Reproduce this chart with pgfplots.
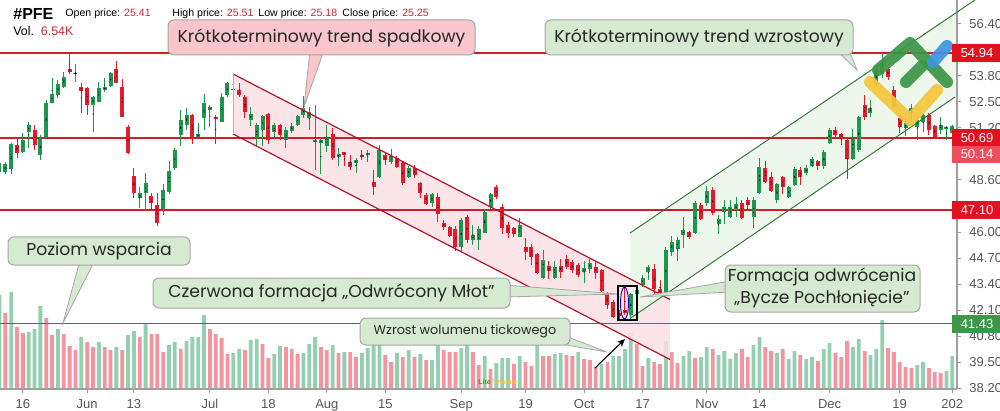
\documentclass[border=0pt]{standalone}
\usepackage{fontspec}
\setmainfont{Liberation Sans}
\newfontfamily\pop{Poppins}
\usepackage{pgfplots}
\pgfplotsset{compat=1.18}
\usepackage{pgfplotstable}
\usetikzlibrary{arrows.meta}
\definecolor{cgreen}{RGB}{30,150,78}
\definecolor{cred}{RGB}{226,28,44}
\definecolor{vgreen}{RGB}{148,208,176}
\definecolor{vred}{RGB}{243,148,158}
\definecolor{lred}{RGB}{205,30,35}
\definecolor{chred}{RGB}{180,20,40}
\definecolor{chgr}{RGB}{40,115,45}
\definecolor{boxpink}{RGB}{248,198,203}
\definecolor{boxgreen}{RGB}{214,234,210}
\definecolor{chpink}{RGB}{252,224,228}
\definecolor{chgreen}{RGB}{236,246,233}
\definecolor{labred}{RGB}{224,18,32}
\definecolor{labred2}{RGB}{236,80,92}
\definecolor{labgreen}{RGB}{62,150,72}
\definecolor{tickgray}{RGB}{85,85,85}
\definecolor{lgreen}{RGB}{60,150,70}
\definecolor{lyellow}{RGB}{245,198,60}
\definecolor{lblue}{RGB}{60,150,225}
\definecolor{hred}{RGB}{200,40,50}

\pgfplotstableread{
i o h l c
0 49.00 49.60 48.90 49.45
1 49.00 49.50 48.90 49.40
2 49.15 50.45 48.90 50.40
3 50.35 50.70 49.70 49.95
4 50.00 50.95 49.95 50.60
5 51.00 51.50 50.20 51.35
6 51.10 51.35 50.10 50.35
7 49.85 50.85 49.60 50.70
8 50.75 52.60 50.70 52.45
9 52.45 53.70 52.45 52.90
10 52.85 53.60 52.70 53.40
11 53.25 54.00 53.20 53.75
12 54.15 54.90 53.90 54.00
13 53.90 54.40 53.50 53.95
14 53.25 53.45 51.95 53.05
15 53.20 53.25 51.85 52.35
16 52.35 52.80 51.00 52.75
17 52.50 53.50 52.50 53.20
18 53.10 53.70 53.00 53.25
19 53.30 54.00 53.25 53.95
20 54.15 54.55 53.45 53.45
21 53.25 53.65 51.75 51.75
22 51.25 51.35 49.90 49.95
23 48.80 49.20 47.70 47.95
24 47.70 48.25 47.20 47.95
25 47.95 48.95 47.10 48.45
26 47.80 47.95 47.10 47.45
27 47.35 47.95 46.30 46.45
28 47.15 48.40 46.85 48.10
29 48.00 49.55 47.90 49.05
30 49.20 50.20 49.10 50.10
31 50.85 52.10 50.30 51.60
32 51.35 52.20 51.10 51.85
33 51.85 51.90 50.40 50.75
34 50.75 51.45 50.75 50.90
35 51.70 52.90 51.10 52.45
36 52.10 52.35 51.25 52.25
37 51.75 51.85 50.40 51.65
38 51.50 52.95 51.50 52.75
39 52.85 53.50 52.75 53.45
40 53.10 53.90 52.85 53.15
41 53.10 53.45 52.75 52.85
42 52.75 52.85 51.70 52.00
43 51.60 52.25 51.30 51.90
44 50.70 51.45 50.30 51.35
45 51.10 51.85 50.30 51.80
46 51.90 51.95 50.40 50.60
47 51.00 51.45 50.70 51.35
48 51.35 51.40 50.60 50.85
49 50.60 51.25 50.20 51.10
50 51.05 51.45 50.95 51.30
51 51.35 51.85 51.30 51.80
52 51.85 52.80 51.70 52.20
53 51.70 52.25 51.10 52.00
54 50.50 52.35 49.10 50.60
55 50.45 50.65 48.90 50.60
56 50.30 51.35 50.00 50.70
57 50.90 51.20 49.60 49.70
58 49.75 50.20 49.30 49.90
59 50.00 50.00 49.30 49.85
60 49.50 49.85 49.10 49.25
61 49.45 49.70 48.95 49.60
62 49.85 50.10 49.60 49.75
63 49.85 50.10 49.50 49.95
64 48.50 49.10 47.85 48.25
65 48.75 50.35 48.70 50.10
66 49.85 49.95 49.35 49.60
67 49.50 50.15 49.40 49.80
68 49.70 49.80 49.20 49.25
69 49.45 49.50 48.35 48.45
70 48.75 49.30 48.70 49.20
71 49.20 49.35 48.70 48.85
72 48.45 48.50 47.70 47.95
73 47.85 47.95 47.35 47.40
74 47.45 47.95 47.25 47.90
75 47.75 47.95 46.50 46.90
76 46.45 46.60 46.10 46.25
77 46.25 46.30 45.75 45.80
78 46.15 46.30 45.05 45.25
79 45.25 46.70 45.05 46.60
80 46.75 46.85 45.45 45.60
81 45.60 46.35 45.35 45.85
82 45.60 46.30 45.10 46.15
83 45.95 47.15 45.95 47.00
84 47.25 47.95 47.15 47.90
85 48.25 48.35 47.65 47.75
86 47.25 47.40 45.90 46.20
87 46.35 46.50 45.70 45.95
88 46.20 46.25 45.75 45.90
89 45.75 46.70 45.75 46.35
90 45.25 45.70 44.60 45.00
91 45.25 45.40 44.35 44.75
92 44.90 44.95 43.90 43.95
93 43.70 45.10 43.65 44.60
94 44.30 44.55 43.65 44.05
95 43.70 44.55 43.65 44.25
96 44.30 44.65 43.70 44.00
97 44.65 44.85 44.15 44.25
98 44.50 44.60 43.95 44.10
99 44.35 44.45 43.75 43.85
100 44.00 44.55 43.45 44.20
101 44.15 44.65 43.95 44.45
102 44.25 44.55 43.65 43.95
103 44.10 44.15 43.00 43.05
104 42.95 43.00 42.15 42.35
105 42.50 42.60 41.70 41.75
106 41.95 42.10 41.65 41.80
107 42.10 43.20 41.85 41.95
108 41.85 42.95 41.70 42.90
109 42.90 43.30 42.70 43.10
110 43.35 43.85 43.25 43.70
111 44.00 44.35 43.60 44.25
112 44.15 44.40 42.80 43.15
113 43.15 43.60 42.85 42.95
114 42.95 45.25 42.90 45.10
115 45.00 45.80 44.80 45.50
116 45.15 45.75 44.55 45.60
117 45.85 46.75 45.20 46.10
118 46.00 46.05 45.65 45.75
119 45.95 47.55 45.90 47.45
120 47.35 47.45 46.60 46.65
121 47.45 48.30 47.30 48.05
122 48.10 48.25 46.85 46.95
123 46.40 46.85 45.90 46.65
124 47.00 47.60 46.40 47.25
125 46.75 47.60 46.70 47.25
126 47.10 47.75 46.75 47.40
127 47.45 47.60 46.65 46.70
128 47.60 47.75 47.10 47.35
129 46.75 47.75 46.20 47.60
130 47.95 49.70 47.90 49.25
131 49.20 49.55 48.45 48.50
132 48.75 49.00 48.00 48.05
133 47.60 48.45 47.45 48.40
134 48.75 48.80 47.90 48.25
135 47.75 48.30 47.70 48.25
136 48.35 49.25 48.30 49.15
137 49.10 49.25 48.35 48.75
138 48.95 49.35 48.85 49.20
139 49.30 49.75 49.25 49.65
140 49.55 49.60 49.10 49.30
141 49.30 50.10 49.15 50.00
142 50.45 51.20 50.40 51.10
143 51.10 51.25 50.75 50.85
144 50.90 50.95 50.35 50.70
145 50.60 50.70 48.65 49.65
146 49.65 51.15 49.60 50.65
147 50.10 51.80 50.00 51.75
148 52.35 52.85 51.60 51.75
149 51.95 52.60 51.75 52.20
150 53.40 54.35 53.30 54.10
151 53.90 54.95 53.70 54.45
152 54.15 54.25 53.60 53.75
153 53.10 53.30 52.20 52.25
154 51.70 51.85 50.95 51.25
155 51.20 51.70 50.80 51.45
156 51.95 52.40 51.60 52.20
157 51.25 51.80 50.60 51.60
158 51.50 51.95 51.00 51.85
159 51.85 51.95 50.85 51.10
160 51.30 51.35 50.70 50.75
161 51.10 51.75 50.90 51.35
162 51.20 51.30 50.60 51.25
163 50.95 51.35 50.90 51.30
}\cdata

\pgfplotstableread{
i v g
0 94 1
1 76 0
2 97 1
3 62 0
4 56 0
5 57 1
6 60 1
7 83 1
8 71 0
9 54 0
10 60 1
11 55 0
12 43 0
13 39 0
14 52 1
15 47 0
16 42 0
17 47 1
18 42 0
19 39 0
20 42 1
21 39 0
22 54 1
23 58 1
24 52 0
25 66 1
26 55 0
27 55 0
28 37 0
29 44 1
30 47 1
31 40 0
32 48 1
33 52 1
34 52 1
35 74 1
36 60 0
37 55 0
38 51 0
39 35 0
40 36 1
41 40 1
42 39 0
43 49 1
44 50 1
45 45 0
46 31 0
47 35 1
48 43 1
49 42 0
50 40 0
51 35 0
52 36 1
53 45 1
54 52 1
55 42 0
56 39 0
57 44 1
58 36 0
59 37 1
60 37 0
61 32 0
62 36 1
63 41 1
64 44 1
65 50 1
66 34 0
67 27 0
68 36 1
69 32 0
70 39 1
71 32 0
72 35 1
73 29 0
74 29 1
75 46 1
76 39 0
77 37 0
78 37 0
79 41 1
80 45 1
81 37 0
82 24 0
83 33 1
84 20 0
85 26 1
86 31 1
87 31 1
88 25 0
89 33 1
90 27 0
91 23 0
92 46 1
93 33 0
94 33 0
95 35 1
96 36 1
97 34 0
98 33 0
99 37 1
100 30 0
101 29 0
102 22 0
103 25 1
104 27 0
105 33 1
106 33 1
107 40 1
108 56 1
109 45 0
110 23 0
111 31 1
112 27 0
113 25 0
114 48 1
115 37 0
116 26 0
117 33 1
118 38 1
119 31 0
120 32 1
121 42 1
122 40 0
123 34 1
124 38 1
125 30 1
126 36 1
127 40 0
128 32 0
129 44 1
130 52 1
131 42 0
132 38 0
133 36 1
134 40 0
135 30 1
136 38 1
137 34 0
138 30 1
139 32 1
140 28 0
141 40 1
142 46 1
143 36 0
144 32 0
145 48 0
146 42 1
147 50 1
148 38 0
149 34 1
150 40 1
151 69 1
152 41 0
153 37 0
154 27 0
155 22 0
156 21 0
157 24 1
158 27 1
159 21 0
160 17 0
161 16 0
162 18 1
163 33 1
}\vdata

\pgfplotsset{candle/.style={only marks, mark=*, mark size=0.01pt,
  mark options={draw=none, fill=none}, forget plot}}

\begin{document}
\begin{tikzpicture}
% ---------- volume ----------
\begin{axis}[at={(0,0)}, anchor=north west, scale only axis,
  width=478.5pt, height=194.5pt, xmin=0.09, xmax=163.8, ymin=0, ymax=389,
  axis lines=none]
\addplot[ybar, bar width=1.9pt, bar shift=0pt, fill=vgreen, draw=none,
  restrict expr to domain={\thisrow{g}}{0.5:1.5}] table[x=i,y=v]{\vdata};
\addplot[ybar, bar width=1.9pt, bar shift=0pt, fill=vred, draw=none,
  restrict expr to domain={\thisrow{g}}{-0.5:0.5}] table[x=i,y=v]{\vdata};
\end{axis}
% ---------- channel fills (pixel coordinates) ----------
\begin{scope}[x=0.5pt,y=-0.5pt]
\fill[chpink, opacity=0.85] (233,74) -- (670,299.5) -- (670,359.5) -- (233,134) -- cycle;
\fill[chgreen, opacity=0.9] (630,233) -- (957,10.6) -- (957,96) -- (630,318.5) -- cycle;
\end{scope}
% ---------- price ----------
\begin{axis}[at={(0,0)}, anchor=north west, scale only axis,
  width=478.5pt, height=194.5pt, xmin=0.09, xmax=163.8, ymin=38.15, ymax=57.6,
  axis x line*=bottom, axis y line*=right,
  axis line style={draw=gray!75, line width=0.6pt},
  tick align=outside, major tick length=2.2pt,
  tick style={draw=gray!75, line width=0.5pt},
  xtick={4,15,23,36,46,56,66,79,90,100,110,121,130,142,154,163},
  xticklabels={16,Jun,13,Jul,18,Aug,15,Sep,19,Oct,17,Nov,14,Dec,19,202},
  ytick={56.4,53.8,52.5,51.2,48.6,46.0,44.7,43.4,42.1,40.8,39.5,38.2},
  yticklabels={56.40,53.80,52.50,51.20,48.60,46.00,44.70,43.40,42.10,40.80,39.50,38.20},
  xticklabel style={font=\fontsize{6.5}{7}\selectfont, text=tickgray, yshift=0.5pt},
  yticklabel style={font=\fontsize{6.5}{7}\selectfont, text=tickgray, xshift=0.5pt},
  ]
\draw[lred, line width=0.75pt] (axis cs:0.09,54.94) -- (axis cs:163.8,54.94);
\draw[lred, line width=0.75pt] (axis cs:0.09,50.69) -- (axis cs:163.8,50.69);
\draw[lred, line width=0.75pt] (axis cs:0.09,47.10) -- (axis cs:163.8,47.10);
\draw[labgreen!85!black, line width=0.75pt] (axis cs:0.09,41.43) -- (axis cs:163.8,41.43);
% wicks
\addplot[candle,
  restrict expr to domain={\thisrow{c}-\thisrow{o}}{0:100},
  error bars/.cd, y dir=both, y explicit, error mark=none,
  error bar style={draw=cgreen, line width=0.5pt}]
  table[x=i, y expr={(\thisrow{h}+\thisrow{l})/2}, y error expr={(\thisrow{h}-\thisrow{l})/2}]{\cdata};
\addplot[candle,
  restrict expr to domain={\thisrow{c}-\thisrow{o}}{-100:-0.0001},
  error bars/.cd, y dir=both, y explicit, error mark=none,
  error bar style={draw=cred, line width=0.5pt}]
  table[x=i, y expr={(\thisrow{h}+\thisrow{l})/2}, y error expr={(\thisrow{h}-\thisrow{l})/2}]{\cdata};
% bodies
\addplot[candle,
  restrict expr to domain={\thisrow{c}-\thisrow{o}}{0:100},
  error bars/.cd, y dir=both, y explicit, error mark=none,
  error bar style={draw=cgreen, line width=2pt}]
  table[x=i, y expr={(\thisrow{o}+\thisrow{c})/2}, y error expr={max(abs(\thisrow{c}-\thisrow{o})/2,0.04)}]{\cdata};
\addplot[candle,
  restrict expr to domain={\thisrow{c}-\thisrow{o}}{-100:-0.0001},
  error bars/.cd, y dir=both, y explicit, error mark=none,
  error bar style={draw=cred, line width=2pt}]
  table[x=i, y expr={(\thisrow{o}+\thisrow{c})/2}, y error expr={max(abs(\thisrow{c}-\thisrow{o})/2,0.04)}]{\cdata};
\end{axis}
% ---------- annotations (pixel coordinates) ----------
\begin{scope}[x=0.5pt,y=-0.5pt]
% channel lines
\draw[chred, line width=0.6pt] (233,74) -- (670,299.5);
\draw[chred, line width=0.6pt] (233,134) -- (670,359.5);
\draw[chred!40, line width=0.4pt] (233,74) -- (233,134);
\draw[chgr, line width=0.45pt] (630,233) -- (975,0);
\draw[chgr, line width=0.45pt] (630,318.5) -- (955,97);
% logo
\begin{scope}[line cap=round, line join=round, line width=6pt, opacity=0.92]
\draw[lyellow] (870,82) -- (910,120) -- (937,90);
\draw[lgreen] (878,70) -- (910,43) -- (947,82);
\draw[lgreen] (906,82) -- (922,66);
\draw[lblue] (933,62) -- (947,46);
\end{scope}
% header
\node[anchor=west, inner sep=0, font=\bfseries\fontsize{8}{9}\selectfont] at (13,14) {\#PFE};
\node[anchor=west, inner sep=0, font=\fontsize{5.3}{6}\selectfont] at (65,14) {Open price: \textcolor{hred}{25.41}};
\node[anchor=west, inner sep=0, font=\fontsize{5.3}{6}\selectfont] at (172,14) {High price: \textcolor{hred}{25.51}};
\node[anchor=west, inner sep=0, font=\fontsize{5.3}{6}\selectfont] at (258,14) {Low price: \textcolor{hred}{25.18}};
\node[anchor=west, inner sep=0, font=\fontsize{5.3}{6}\selectfont] at (342,14) {Close price: \textcolor{hred}{25.25}};
\node[anchor=west, inner sep=0, font=\fontsize{6.2}{7}\selectfont] at (13,31) {Vol.\ \ \textcolor{hred}{6.54K}};
% callout 1
\fill[boxpink, draw=gray!70, line width=0.4pt] (310,50) -- (324,50) -- (304,107) -- cycle;
\fill[boxpink, draw=gray!70, line width=0.5pt, rounded corners=3pt] (168,20) rectangle (475,55);
\node[font=\pop\fontsize{8.6}{10}\selectfont, text=black!85] at (321.5,38) {Krótkoterminowy trend spadkowy};
% callout 2
\fill[boxgreen, draw=gray!70, line width=0.4pt] (836,50) -- (849,50) -- (857,70) -- cycle;
\fill[boxgreen, draw=gray!70, line width=0.5pt, rounded corners=3pt] (545,20) rectangle (853,55);
\node[font=\pop\fontsize{8.6}{10}\selectfont, text=black!85] at (699,38) {Krótkoterminowy trend wzrostowy};
% callout 3
\fill[boxgreen, draw=gray!70, line width=0.4pt] (80,260) -- (95,260) -- (63,323) -- cycle;
\fill[boxgreen, draw=gray!70, line width=0.5pt, rounded corners=3pt] (8,237) rectangle (190,265);
\node[font=\pop\fontsize{8.6}{10}\selectfont, text=black!85] at (99,251) {Poziom wsparcia};
% callout 4
\fill[boxgreen, draw=gray!70, line width=0.4pt] (505,285) -- (505,297) -- (618,294) -- cycle;
\fill[boxgreen, draw=gray!70, line width=0.5pt, rounded corners=3pt] (153,278) rectangle (510,308);
\node[font=\pop\fontsize{8.6}{10}\selectfont, text=black!85] at (331.5,293) {Czerwona formacja „Odwrócony Młot”};
% callout 5
\fill[boxgreen, draw=gray!70, line width=0.4pt] (730,281) -- (730,292) -- (640,297) -- cycle;
\fill[boxgreen, draw=gray!70, line width=0.5pt, rounded corners=3pt] (725,265) rectangle (920,312);
\node[font=\pop\fontsize{8.6}{10}\selectfont, text=black!85] at (822,277) {Formacja odwrócenia};
\node[font=\pop\fontsize{8.6}{10}\selectfont, text=black!85] at (822,299) {„Bycze Pochłonięcie”};
% callout 6
\fill[boxgreen, draw=gray!70, line width=0.4pt] (560,334) -- (560,344) -- (607,352) -- cycle;
\fill[boxgreen, draw=gray!70, line width=0.5pt, rounded corners=3pt] (360,318) rectangle (570,345);
\node[font=\pop\fontsize{6.4}{8}\selectfont, text=black!85] at (465,331) {Wzrost wolumenu tickowego};
% arrow
\draw[black, line width=0.55pt, -{Stealth[length=4pt,width=3.5pt]}] (595,368) -- (625,339);
% pattern box
\draw[black, line width=0.8pt] (618,286) rectangle (637,320);
\draw[blue!70!black, line width=0.45pt] (624.5,303) ellipse (4 and 16);
% watermark
\node[anchor=west, inner sep=0, font=\bfseries\fontsize{3.5}{4}\selectfont, text=lyellow] at (478,382) {\textcolor{lgreen}{Lite}Finance};
% price labels
\fill[labred] (952,44) rectangle (1000,62);
\node[font=\fontsize{6.5}{7}\selectfont, text=white] at (977,53) {54.94};
\fill[labred] (952,129) rectangle (1000,147);
\node[font=\fontsize{6.5}{7}\selectfont, text=white] at (977,138) {50.69};
\fill[labred2] (952,146) rectangle (1000,163);
\node[font=\fontsize{6.5}{7}\selectfont, text=white] at (977,154.5) {50.14};
\fill[labred] (952,201) rectangle (1000,219);
\node[font=\fontsize{6.5}{7}\selectfont, text=white] at (977,210) {47.10};
\fill[labgreen] (952,315) rectangle (1000,333);
\node[font=\fontsize{6.5}{7}\selectfont, text=white] at (977,324) {41.43};
\end{scope}
\pgfresetboundingbox
\path[use as bounding box] (0,0) rectangle (500pt,-205.5pt);
\end{tikzpicture}
\end{document}
